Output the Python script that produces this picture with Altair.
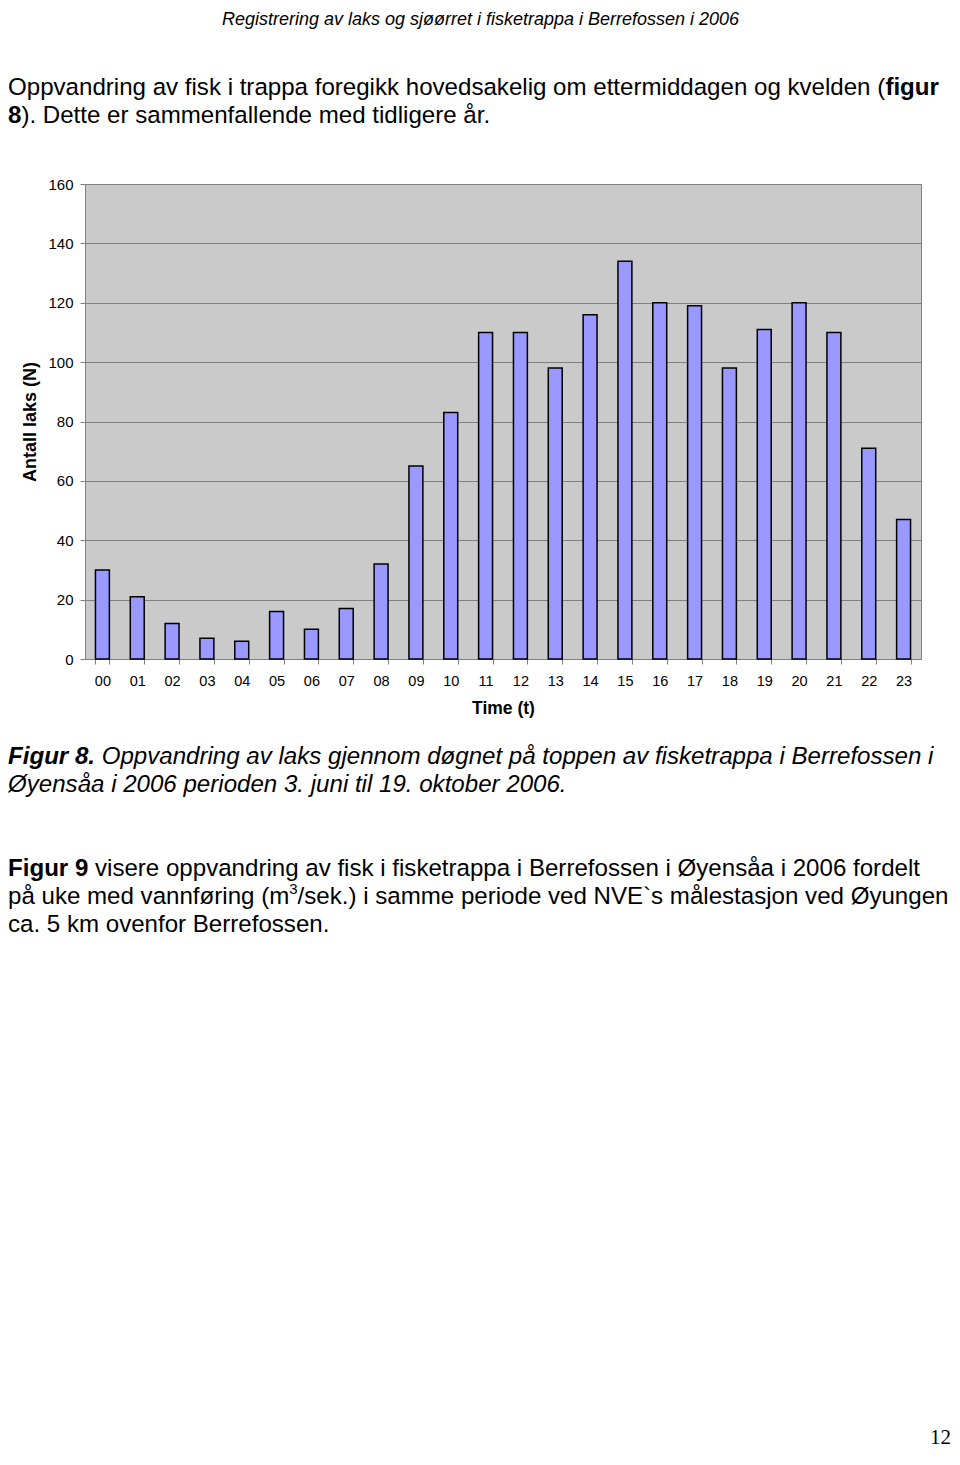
import altair as alt
import pandas as pd

# ---- data ----
hours = ["00", "01", "02", "03", "04", "05", "06", "07", "08", "09", "10", "11",
         "12", "13", "14", "15", "16", "17", "18", "19", "20", "21", "22", "23"]
counts = [30, 21, 12, 7, 6, 16, 10, 17, 32, 65, 83, 110,
          110, 98, 116, 134, 120, 119, 98, 111, 120, 110, 71, 47]
y_ticks = [0, 20, 40, 60, 80, 100, 120, 140, 160]

header_text = "Registrering av laks og sjøørret i fisketrappa i Berrefossen i 2006"
intro_line1 = "Oppvandring av fisk i trappa foregikk hovedsakelig om ettermiddagen og kvelden ("
intro_line1_bold = "figur"
intro_line2_bold = "8"
intro_line2 = "). Dette er sammenfallende med tidligere år."
caption_bold = "Figur 8."
caption_line1 = "Oppvandring av laks gjennom døgnet på toppen av fisketrappa i Berrefossen i"
caption_line2 = "Øyensåa i 2006 perioden 3. juni til 19. oktober 2006."
para_bold = "Figur 9"
para_line1 = "visere oppvandring av fisk i fisketrappa i Berrefossen i Øyensåa i 2006 fordelt"
para_line2a = "på uke med vannføring (m"
para_sup = "3"
para_line2b = "/sek.) i samme periode ved NVE`s målestasjon ved Øyungen"
para_line3 = "ca. 5 km ovenfor Berrefossen."
page_number = "12"

df = pd.DataFrame({"hour": hours, "count": counts})

PLOT_W, PLOT_H = 836, 475
ORIGIN_X, ORIGIN_Y = 85, 184  # page position of plot area
TOTAL_W, TOTAL_H = 944, 1441
SANS = "Liberation Sans"
BODY = 24.1


def txt(text, px, py, size=BODY, weight="normal", style="normal",
        font=SANS, align="left"):
    d = pd.DataFrame({"t": [text]})
    return alt.Chart(d).mark_text(
        font=font, fontSize=size, fontWeight=weight, fontStyle=style,
        align=align, baseline="alphabetic", color="black"
    ).encode(
        text="t:N",
        x=alt.value(px - ORIGIN_X),
        y=alt.value(py - ORIGIN_Y),
    )


bars = alt.Chart(df).mark_bar(
    color="#9999FF", stroke="#000000", strokeWidth=1.5
).encode(
    x=alt.X("hour:N", sort=hours,
            scale=alt.Scale(paddingInner=0.6, paddingOuter=0.3),
            axis=alt.Axis(title="Time (t)", labelAngle=0, labelFont=SANS,
                          labelFontSize=14.5, labelColor="black", labelPadding=10,
                          tickBand="extent", tickColor="#808080", tickSize=5,
                          domainColor="#808080", titleFont=SANS,
                          titleFontSize=17.5, titleFontWeight="bold",
                          titleColor="black", titlePadding=12)),
    y=alt.Y("count:Q", scale=alt.Scale(domain=[0, 160], nice=False),
            axis=alt.Axis(title="Antall laks (N)", values=y_ticks,
                          labelFont=SANS, labelFontSize=15, labelColor="black",
                          labelPadding=7, tickColor="#808080", tickSize=5,
                          domainColor="#808080", gridColor="#808080",
                          gridWidth=1, grid=True, titleFont=SANS,
                          titleFontSize=18, titleFontWeight="bold",
                          titleColor="black", titleX=-55,
                          titleY=PLOT_H / 2, titleAlign="center",
                          titleBaseline="middle", titleAngle=270)),
)

texts = [
    txt(header_text, 480.5, 25, size=18, style="italic", align="center"),
    txt(intro_line1, 8, 95),
    txt(intro_line1_bold, 885.4, 95, weight="bold"),
    txt(intro_line2_bold, 8, 123, weight="bold"),
    txt(intro_line2, 21.4, 123),
    txt(caption_bold, 8, 764, weight="bold", style="italic"),
    txt(caption_line1, 101.7, 764, style="italic"),
    txt(caption_line2, 8, 792, style="italic"),
    txt(para_bold, 8, 876, weight="bold"),
    txt(para_line1, 95.0, 876),
    txt(para_line2a, 8, 904),
    txt(para_sup, 289.3, 894, size=15),
    txt(para_line2b, 297.6, 904),
    txt(para_line3, 8, 932),
    txt(page_number, 951, 1444, size=21, font="Liberation Serif", align="right"),
]

chart = alt.layer(bars, *texts).properties(
    width=PLOT_W,
    height=PLOT_H,
    autosize=alt.AutoSizeParams(type="none"),
    padding={"left": ORIGIN_X - 8, "top": ORIGIN_Y - 8,
             "right": TOTAL_W - (ORIGIN_X - 8) - PLOT_W,
             "bottom": TOTAL_H - (ORIGIN_Y - 8) - PLOT_H},
).configure(
    background="white"
).configure_view(
    fill="#CACACA", stroke="#808080", strokeWidth=1
)

chart.save("out.html", embed_options={"renderer": "svg", "actions": False})
